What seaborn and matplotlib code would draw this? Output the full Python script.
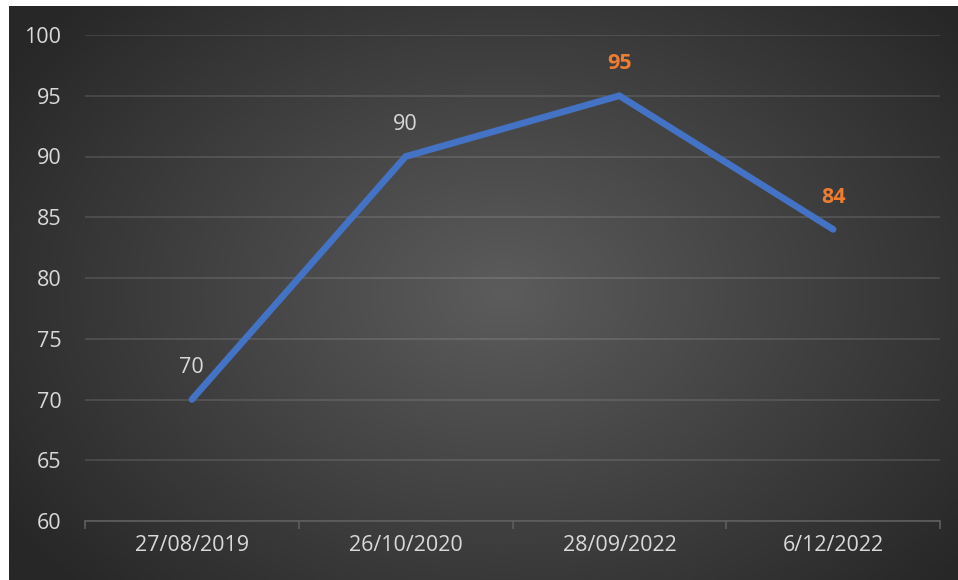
import numpy as np
import pandas as pd
import matplotlib
matplotlib.use("Agg")
import matplotlib.pyplot as plt
import seaborn as sns

dates = ["27/08/2019", "26/10/2020", "28/09/2022", "6/12/2022"]
values = [70, 90, 95, 84]
label_colors = ["#d9d9d9", "#d9d9d9", "#ed7d31", "#ed7d31"]
label_weights = ["normal", "normal", "bold", "bold"]
yticks = [60, 65, 70, 75, 80, 85, 90, 95, 100]

sns.set_theme(style="dark")
plt.rcParams["font.family"] = ["Open Sans", "DejaVu Sans"]

W, H = 958, 580
fig = plt.figure(figsize=(W / 100, H / 100), dpi=100, facecolor="white")

# background gradient panel
bg = fig.add_axes([9 / W, 0, 1 - 9 / W, 1 - 6 / H], zorder=-1)
ny, nx = 400, 660
yy, xx = np.mgrid[0:ny, 0:nx]
cx, cy = nx * 0.52, ny * 0.50
r = np.sqrt(((xx - cx) / (nx * 0.62)) ** 2 + ((yy - cy) / (ny * 0.75)) ** 2)
r = np.clip(r, 0, 1)
inner = np.array([0x5c, 0x5c, 0x5c]) / 255
outer = np.array([0x27, 0x27, 0x27]) / 255
img = inner[None, None, :] * (1 - r[..., None]) + outer[None, None, :] * r[..., None]
bg.imshow(img, aspect="auto", extent=[0, 1, 0, 1], interpolation="bilinear")
bg.set_axis_off()

ax = fig.add_axes([85 / W, 1 - 521 / H, (940 - 85) / W, (521 - 35) / H])
ax.set_facecolor("none")
df = pd.DataFrame({"date": dates, "value": values})
sns.lineplot(data=df, x="date", y="value", ax=ax, color="#4472c4",
             linewidth=4.8, solid_capstyle="round", solid_joinstyle="miter",
             sort=False)

ax.set_xlim(-0.5, len(dates) - 0.5)
ax.set_ylim(60, 100)
ax.set_yticks(yticks)
ax.set_xlabel("")
ax.set_ylabel("")
ax.grid(axis="y", color="#ffffff", alpha=0.13, linewidth=1.2)
ax.grid(axis="x", visible=False)
for s in ["top", "right", "left"]:
    ax.spines[s].set_visible(False)
ax.spines["bottom"].set_color("#5e5e5e")
ax.spines["bottom"].set_linewidth(1.2)

ax.tick_params(axis="both", which="major", length=0, labelsize=15.5,
               labelcolor="#d9d9d9")
ax.tick_params(axis="y", pad=17)
ax.tick_params(axis="x", pad=10)
ax.set_xticks(np.arange(-0.5, len(dates), 1.0), minor=True)
ax.tick_params(axis="x", which="minor", bottom=True, length=6, width=1.2,
               color="#5e5e5e", direction="out")

for i, (v, c, w) in enumerate(zip(values, label_colors, label_weights)):
    ax.annotate(str(v), (i, v), xytext=(0, 23), textcoords="offset points",
                ha="center", va="center", color=c, fontweight=w, fontsize=15.5)

fig.savefig("out.png", dpi=100, facecolor=fig.get_facecolor())
